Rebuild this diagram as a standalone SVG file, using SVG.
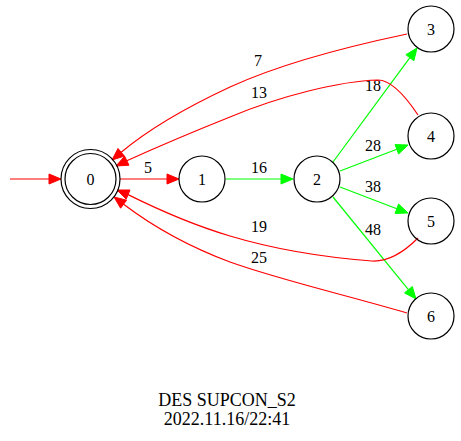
<svg xmlns="http://www.w3.org/2000/svg" width="461" height="441" viewBox="0 0 461 441">
  <style>
    text { font-family: "Liberation Serif", "Times New Roman", serif; font-size: 16px; fill: #000; text-anchor: middle; }
    .title text { font-size: 18px; }
    .node circle { fill: none; stroke: #000; stroke-width: 1.2; }
    .red path, .red line { fill: none; stroke: #ff0000; stroke-width: 1.2; }
    .red polygon { fill: #ff0000; stroke: #ff0000; stroke-width: 1; }
    .green line { fill: none; stroke: #00ff00; stroke-width: 1.2; }
    .green polygon { fill: #00ff00; stroke: #00ff00; stroke-width: 1; }
  </style>
  <rect width="461" height="441" fill="#ffffff"/>

  <g id="edges">
    <!-- initial arrow -->
    <g class="red">
      <line x1="10" y1="179" x2="49" y2="179"/>
      <polygon points="61,179 49,174 49,184"/>
    </g>
    <!-- 0 -> 1 -->
    <g class="red">
      <line x1="120" y1="179" x2="167" y2="179"/>
      <polygon points="179,179 167,174 167,184"/>
      <text x="148" y="173">5</text>
    </g>
    <!-- 1 -> 2 -->
    <g class="green">
      <line x1="226" y1="179" x2="281" y2="179"/>
      <polygon points="293,179 281,174 281,184"/>
      <text x="259" y="173">16</text>
    </g>
    <!-- 2 -> 3 -->
    <g class="green">
      <line x1="333" y1="162" x2="409.9" y2="57.7"/>
      <polygon points="417,48 413.9,60.7 405.9,54.7"/>
      <text x="373" y="91">18</text>
    </g>
    <!-- 2 -> 4 -->
    <g class="green">
      <line x1="340" y1="171" x2="396.8" y2="149.3"/>
      <polygon points="408,145 398.6,154 395,144.6"/>
      <text x="373" y="151">28</text>
    </g>
    <!-- 2 -> 5 -->
    <g class="green">
      <line x1="340" y1="187" x2="396.8" y2="208.7"/>
      <polygon points="408,213 395,213.4 398.6,204"/>
      <text x="373" y="192">38</text>
    </g>
    <!-- 2 -> 6 -->
    <g class="green">
      <line x1="333" y1="197" x2="408.4" y2="289.7"/>
      <polygon points="416,299 404.5,292.9 412.3,286.5"/>
      <text x="373" y="235">48</text>
    </g>
    <!-- 3 -> 0 -->
    <g class="red">
      <path d="M407,34 C350,46 280,64 230,87 C185,108 150,128 121.2,152.3"/>
      <polygon points="112,160 118,148.5 124.4,156.1"/>
      <text x="258" y="66">7</text>
    </g>
    <!-- 4 -> 0 -->
    <g class="red">
      <path d="M418,115 C408,100 393,80 378,80 C340,81 280,96 230,117 C190,133 155,148 126.8,160.7"/>
      <polygon points="116,166 124.6,156.2 129,165.2"/>
      <text x="259" y="98">13</text>
    </g>
    <!-- 5 -> 0 -->
    <g class="red">
      <path d="M418,238 C408,248 392,262 372,261 C320,257 270,248 230,236 C190,224 155,208 128.1,194.6"/>
      <polygon points="117,190 130,190 126.2,199.2"/>
      <text x="259" y="232">19</text>
    </g>
    <!-- 6 -> 0 -->
    <g class="red">
      <path d="M407,313 C350,296 280,280 230,262 C190,247 155,228 123.6,204.2"/>
      <polygon points="114,197 126.6,200.2 120.6,208.2"/>
      <text x="259" y="263">25</text>
    </g>
  </g>

  <g id="node0" class="node">
    <circle cx="90.5" cy="179" r="29.5"/>
    <circle cx="90.5" cy="179" r="25.5"/>
    <text x="90.5" y="185">0</text>
  </g>
  <g id="node1" class="node">
    <circle cx="202" cy="179" r="23"/>
    <text x="202" y="185">1</text>
  </g>
  <g id="node2" class="node">
    <circle cx="317" cy="179" r="23"/>
    <text x="317" y="185">2</text>
  </g>
  <g id="node3" class="node">
    <circle cx="431" cy="29" r="23"/>
    <text x="431" y="35">3</text>
  </g>
  <g id="node4" class="node">
    <circle cx="431" cy="136" r="23"/>
    <text x="431" y="142">4</text>
  </g>
  <g id="node5" class="node">
    <circle cx="431" cy="221" r="23"/>
    <text x="431" y="227">5</text>
  </g>
  <g id="node6" class="node">
    <circle cx="431" cy="316" r="23"/>
    <text x="431" y="322">6</text>
  </g>

  <g id="title" class="title">
    <text x="227" y="406">DES SUPCON_S2</text>
    <text x="227" y="425">2022.11.16/22:41</text>
  </g>
</svg>
